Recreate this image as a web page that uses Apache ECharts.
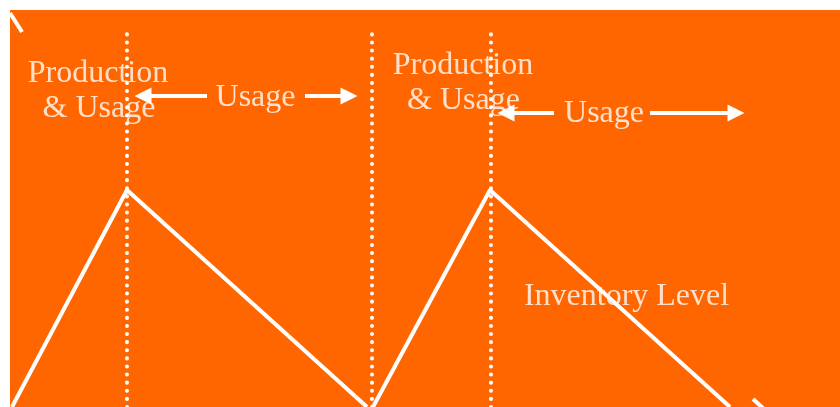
<!DOCTYPE html>
<html>
<head>
<meta charset="utf-8">
<script src="https://cdn.jsdelivr.net/npm/echarts@6/dist/echarts.min.js"></script>
<style>
  html, body { margin: 0; padding: 0; background: #ffffff; }
  #chart { width: 840px; height: 407px; }
</style>
</head>
<body>
<div id="chart"></div>
<script>
// inventory saw-tooth, one array per cycle: [time, level]
const cycleOne = [[2, 0], [117, 217], [357, 0]];
const cycleTwo = [[363, 0], [480, 217], [720, 0]];

// dotted phase dividers (time) and their height
const dividerTimes = [117, 362, 481];
const dividerTop = 375;

// usage arrows: [from, to]
const arrowSegments = [
  [[197, 311], [133, 311]],
  [[295, 311], [339, 311]],
  [[544, 294], [496, 294]],
  [[640, 294], [726, 294]],
];

// small stubs at the corners of the original frame
const stubSegments = [
  [[0, 394], [12, 375]],
  [[743, 8], [755, -3]],
];

// text labels and where they sit
const labelText = ["Production", "& Usage", "Usage", "Production", "& Usage", "Usage", "Inventory Level"];
const labelAt = [[88, 333], [89, 298], [245.5, 309], [453, 341], [453.5, 306.5], [594, 293], [616.5, 110]];

const chart = echarts.init(document.getElementById("chart"));

const white = "#ffffff";
const lineWidth = 4;

const option = {
  animation: false,
  backgroundColor: "#ffffff",
  grid: {
    left: 10,
    top: 10,
    right: 0,
    bottom: 0,
    show: true,
    backgroundColor: "#ff6600",
    borderWidth: 0,
  },
  xAxis: { type: "value", min: 0, max: 830, show: false },
  yAxis: { type: "value", min: 0, max: 397, show: false },
  series: [
    ...[cycleOne, cycleTwo].map((cycle) => ({
      type: "line",
      data: cycle,
      showSymbol: false,
      lineStyle: { color: white, width: lineWidth },
      z: 2,
    })),
    {
      type: "lines",
      coordinateSystem: "cartesian2d",
      data: dividerTimes.map((t) => ({ coords: [[t, 0], [t, dividerTop]] })),
      lineStyle: { color: white, width: 4, type: [0.1, 8], cap: "round", opacity: 1 },
      z: 3,
    },
    {
      type: "lines",
      coordinateSystem: "cartesian2d",
      data: arrowSegments.map((s) => ({ coords: s })),
      symbol: ["none", "triangle"],
      symbolSize: 17,
      lineStyle: { color: white, width: lineWidth, opacity: 1 },
      z: 4,
    },
    {
      type: "lines",
      coordinateSystem: "cartesian2d",
      data: stubSegments.map((s) => ({ coords: s })),
      lineStyle: { color: white, width: lineWidth, opacity: 1 },
      z: 4,
    },
    {
      type: "scatter",
      data: labelAt.map((p, i) => ({ name: labelText[i], value: p })),
      symbolSize: 0,
      silent: true,
      label: {
        show: true,
        position: "inside",
        formatter: (p) => labelText[p.dataIndex],
        color: white,
        textBorderWidth: 0,
        fontFamily: "Liberation Serif",
        fontSize: 32,
      },
      z: 5,
    },
  ],
};

chart.setOption(option);
</script>
</body>
</html>
